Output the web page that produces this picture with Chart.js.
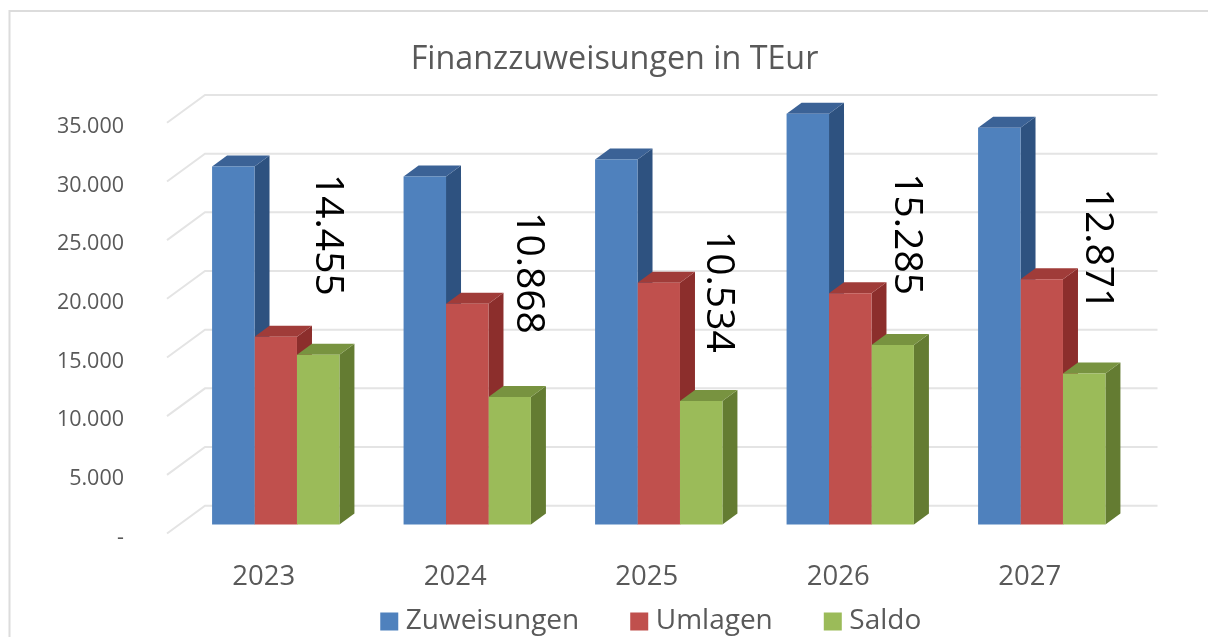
<!DOCTYPE html>
<html><head><meta charset="utf-8">
<style>html,body{margin:0;padding:0;background:#fff;overflow:hidden}canvas{display:block}</style>
<script src="https://cdn.jsdelivr.net/npm/chart.js@4"></script>
</head><body>
<canvas id="c" width="1208" height="637"></canvas>
<script>
const categories = ['2023','2024','2025','2026','2027'];
const zuweisungen = [30500,29650,31100,35000,33800];
const umlagen = [16000,18800,20600,19700,20900];
const saldo = [14455,10868,10534,15285,12871];
const saldoLabels = ['14.455','10.868','10.534','15.285','12.871'];
const yTicks = [0,5000,10000,15000,20000,25000,30000,35000];

const labelDx = [9,18,17,13,13];
const labelDy = [-120,-124,-109,-111,-124];
const sideColors = ['#2e5280','#8c2e2c','#647c32'];
const topColors = ['#3b6296','#a03c39','#789340'];
const DEPTH_X = 15, DEPTH_Y = -11;
const FONT = '"Open Sans"';
const LEGEND_BOX_H = 45;

const scene = {
  id:'scene',
  beforeLayout(chart){
    const lg = chart.legend;
    if (lg && !lg._wrapped){
      const f = lg.fit;
      lg.fit = function(){ f.call(this); this.height = LEGEND_BOX_H; };
      lg._wrapped = true;
    }
  },
  afterLayout(chart){
    chart.legend.left += 60.25; chart.legend.right += 60.25;
    chart.legend.top -= 42;
    chart.titleBlock.left += 20.75; chart.titleBlock.right += 20.75;
  },
  beforeDraw(chart){
    const {ctx, chartArea:a, scales:{y}} = chart;
    ctx.save();
    ctx.strokeStyle='#dcdcdc'; ctx.lineWidth=2;
    ctx.beginPath(); ctx.moveTo(9.5,640); ctx.lineTo(9.5,11); ctx.lineTo(1210,11); ctx.stroke();
    ctx.strokeStyle='#e4e4e4'; ctx.lineWidth=2;
    y.ticks.forEach(t=>{
      const p=y.getPixelForValue(t.value);
      ctx.beginPath();
      ctx.moveTo(a.left-13,p+9);
      ctx.lineTo(a.left+25,p-18.8);
      ctx.lineTo(a.right+20,p-18.8);
      ctx.stroke();
    });
    ctx.restore();
  },
  beforeDatasetsDraw(chart){
    const {ctx}=chart;
    chart.data.datasets.forEach((ds,i)=>{
      chart.getDatasetMeta(i).data.forEach(b=>{
        const l=b.x-b.width/2, r=b.x+b.width/2, t=b.y, base=b.base;
        ctx.fillStyle=sideColors[i];
        ctx.beginPath();
        ctx.moveTo(r,t);ctx.lineTo(r+DEPTH_X,t+DEPTH_Y);ctx.lineTo(r+DEPTH_X,base+DEPTH_Y);ctx.lineTo(r,base);
        ctx.closePath();ctx.fill();
        ctx.fillStyle=topColors[i];
        ctx.beginPath();
        ctx.moveTo(l,t);ctx.lineTo(l+DEPTH_X,t+DEPTH_Y);ctx.lineTo(r+DEPTH_X,t+DEPTH_Y);ctx.lineTo(r,t);
        ctx.closePath();ctx.fill();
      });
    });
  },
  afterDatasetsDraw(chart){
    const {ctx}=chart;
    const meta=chart.getDatasetMeta(2);
    ctx.save();
    ctx.fillStyle='#000';
    ctx.font='39px '+FONT;
    ctx.textAlign='center';ctx.textBaseline='middle';
    meta.data.forEach((b,i)=>{
      ctx.save();
      ctx.translate(b.x+labelDx[i],b.y+labelDy[i]);
      ctx.rotate(Math.PI/2);
      ctx.fillText(saldoLabels[i],0,0);
      ctx.restore();
    });
    ctx.restore();
  }
};

const commonBar = {categoryPercentage:0.665,barPercentage:1,borderWidth:0,clip:false};
new Chart(document.getElementById('c'),{
  type:'bar',
  data:{labels:categories,datasets:[
    {label:'Zuweisungen',data:zuweisungen,backgroundColor:'#4f81bd',...commonBar},
    {label:'Umlagen',data:umlagen,backgroundColor:'#c0504d',...commonBar},
    {label:'Saldo',data:saldo,backgroundColor:'#9bbb59',...commonBar}
  ]},
  options:{
    responsive:false,animation:false,
    layout:{padding:{left:50,right:70.5,top:0,bottom:0}},
    plugins:{
      tooltip:{enabled:false},
      title:{display:true,text:'Finanzzuweisungen in TEur',color:'#595959',
        font:{family:FONT,size:32.3,weight:'normal',lineHeight:1.2},
        padding:{top:40,bottom:35}},
      legend:{display:true,position:'bottom',
        labels:{usePointStyle:true,pointStyle:'rect',boxWidth:5,boxHeight:18,padding:57.5,color:'#595959',
          font:{family:FONT,size:28}}}
    },
    scales:{
      x:{
        grid:{display:false},border:{display:false},
        afterFit(s){s.height=67.5;},
        ticks:{color:'#595959',font:{family:FONT,size:27.5},padding:28,labelOffset:-12,maxRotation:0}
      },
      y:{
        min:0,max:35000,
        afterBuildTicks(s){s.ticks=yTicks.map(v=>({value:v}));},
        grid:{display:false},border:{display:false},
        afterFit(s){s.width=130;},
        ticks:{color:'#595959',font:{family:FONT,size:21.5},padding:48,labelOffset:13,
          callback(v){return v===0?'-':String(v).replace(/(\d+)(\d{3})$/,'$1.$2');}}
      }
    }
  },
  plugins:[scene]
});
</script>
</body></html>
